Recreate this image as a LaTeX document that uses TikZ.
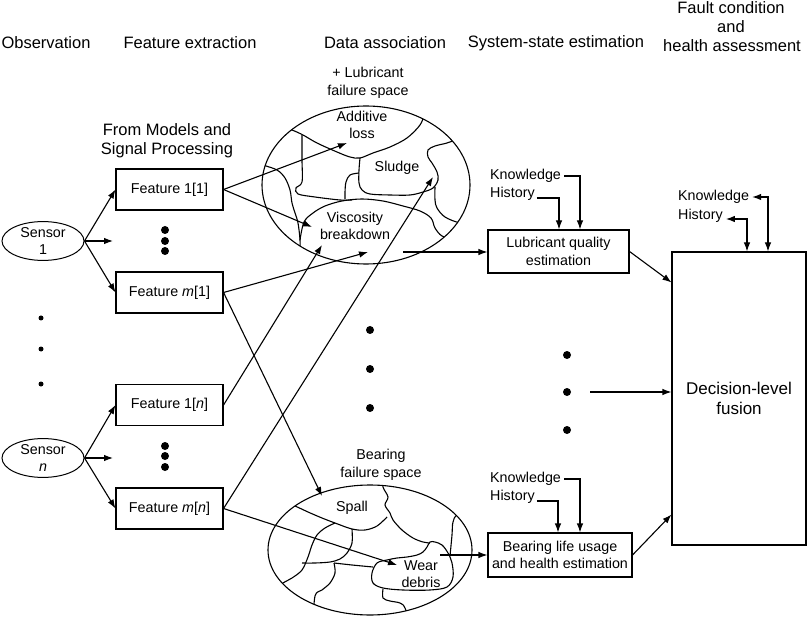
\documentclass[tikz,border=0pt]{standalone}
\usepackage{fontspec}
\setmainfont{Liberation Sans}
\usetikzlibrary{arrows.meta,shapes.geometric}
\newcommand\hdfont{\fontsize{16.5}{19}\selectfont}
\newcommand\fusfont{\fontsize{17}{20}\selectfont}
\newcommand\txfont{\fontsize{14.3}{17.5}\selectfont}
\begin{document}
\begin{tikzpicture}[x=1pt,y=-1pt,
  hd/.style={font=\hdfont, inner sep=0pt, align=center},
  tx/.style={font=\txfont, inner sep=0pt, align=center},
  fbox/.style={draw, line width=1.1pt, minimum width=107pt, minimum height=41pt, inner sep=0pt, font=\txfont, align=center},
  sens/.style={draw, ellipse, line width=1pt, minimum width=82pt, minimum height=37pt, inner sep=0pt, font=\txfont, align=center},
  arr/.style={line width=1.1pt, -{Latex[length=9pt,width=6.5pt]}},
  dbl/.style={line width=1.1pt, {Latex[length=9pt,width=6.5pt]}-{Latex[length=9pt,width=6.5pt]}},
  bd/.style={line width=1.1pt},
  bigdot/.style={fill, circle, inner sep=0pt, minimum size=8pt},
  smalldot/.style={fill, circle, inner sep=0pt, minimum size=5pt}]
\useasboundingbox (0,0) rectangle (808,617);

% headers
\node[hd] (hobs) at (46,43) {Observation};
\node[hd] (hfe) at (190,43) {Feature extraction};
\node[hd] (hda) at (385,43) {Data association};
\node[hd] (hss) at (556,43) {System-state estimation};
\node[hd] (hf1) at (731,8) {Fault condition};
\node[hd] (hf2) at (731,27) {and};
\node[hd] (hf3) at (732,46) {health assessment};
\node[hd] (fmsp) at (167,141) {From Models and\\Signal Processing};

% sensors
\node[sens] (s1) at (43,241) {Sensor\\1};
\node[sens] (sn) at (43,458) {Sensor\\\textit{n}};
\node[smalldot] (ld1) at (41,318) {};
\node[smalldot] (ld2) at (41,349) {};
\node[smalldot] (ld3) at (41,384) {};

% features
\node[fbox] (f11) at (169.5,189.5) {Feature 1[1]};
\node[fbox] (fm1) at (169.5,292.5) {Feature \textit{m}[1]};
\node[fbox] (f1n) at (169.5,405) {Feature 1[\textit{n}]};
\node[fbox] (fmn) at (169.5,508.5) {Feature \textit{m}[\textit{n}]};
\node[bigdot] (fd1) at (165,230) {};
\node[bigdot] (fd2) at (165,241) {};
\node[bigdot] (fd3) at (165,251) {};
\node[bigdot] (fd4) at (165,446) {};
\node[bigdot] (fd5) at (165,456) {};
\node[bigdot] (fd6) at (165,467) {};

\coordinate (s1m) at (113,241);
\coordinate (snm) at (113,458);
\draw[arr] (s1.east) -- (f11.west);
\draw[arr] (s1.east) -- (s1m);
\draw[arr] (s1.east) -- (fm1.west);
\draw[arr] (sn.east) -- (f1n.west);
\draw[arr] (sn.east) -- (snm);
\draw[arr] (sn.east) -- (fmn.west);

% lubricant failure space
\node[tx] (lubt) at (368,83) {+ Lubricant\\failure space};
\begin{scope}
\clip (366,185) ellipse [x radius=104pt, y radius=79pt];
\draw[bd] plot[smooth, tension=0.55] coordinates {(280,126) (292,130) (303,135) (317,143) (337,152) (350,157) (360,158) (373,153) (390,147) (407,138) (420,125) (424,114) (425,100)};
\draw[bd] plot[smooth, tension=0.55] coordinates {(302,135) (302,160) (302,182) (296,188) (298,194) (315,197) (340,200) (352,200)};
\draw[bd] plot[smooth, tension=0.55] coordinates {(360,158) (359,170) (359,183) (362,190) (370,194) (390,195) (410,195) (423,192) (433,188) (438,180) (437,172) (432,163) (428,157) (428,150) (435,146) (447,143) (458,139) (478,132)};
\draw[bd] plot[smooth, tension=0.55] coordinates {(359,173) (350,175) (346,182) (345,192) (345,199)};
\draw[bd] plot[smooth, tension=0.55] coordinates {(250,160) (263,165) (277,170) (285,178) (290,190) (292,203) (295,213) (298,223) (300,240) (300,256)};
\draw[bd] plot[smooth, tension=0.55] coordinates {(300,240) (304,222) (313,213) (325,206) (342,201) (362,199) (383,201) (403,206) (420,211) (431,218) (435,228) (442,236) (453,238) (467,232) (482,222)};
\draw[bd] plot[smooth, tension=0.55] coordinates {(435,187) (435,200) (437,208) (445,217) (460,223) (480,226)};
\end{scope}
\draw[bd] (366,185) ellipse [x radius=104pt, y radius=79pt];
\node[tx] (addl) at (362,125) {Additive\\loss};
\node[tx] (sldg) at (397,168) {Sludge};
\node[tx] (visc) at (355,226) {Viscosity\\breakdown};

\coordinate (tadd) at (347,143);
\coordinate (tvis1) at (312,227);
\coordinate (tvis2) at (368,252);
\coordinate (tvis3) at (322,245);
\coordinate (tsld) at (433,177);
\coordinate (lubo) at (403,252);
\draw[arr] (f11.east) -- (tadd);
\draw[arr] (f11.east) -- (tvis1);
\draw[arr] (fm1.east) -- (tvis2);
\draw[arr] (f1n.east) -- (tvis3);
\draw[arr] (fmn.east) -- (tsld);

% bearing failure space
\node[tx] (beart) at (381,465) {Bearing\\failure space};
\begin{scope}
\clip (370,550) ellipse [x radius=102pt, y radius=65pt];
\draw[bd] plot[smooth, tension=0.55] coordinates {(280,500) (295,506) (308,512) (322,518) (335,523) (352,529) (365,530) (377,526) (387,517)};
\draw[bd] plot[smooth, tension=0.55] coordinates {(382,475) (383,487) (388,497) (385,505) (390,513) (393,520) (402,530) (413,538) (423,542) (430,543)};
\draw[bd] plot[smooth cycle, tension=0.55] coordinates {(377,563) (372,573) (373,583) (383,588) (403,590) (430,590) (447,587) (453,577) (452,563) (448,553) (442,545) (435,542) (430,542) (427,547) (423,552) (417,555) (407,557) (397,558) (387,560)};
\draw[bd] plot[smooth, tension=0.55] coordinates {(383,589) (383,598) (390,601) (400,603) (405,608) (410,625)};
\draw[bd] plot[smooth, tension=0.55] coordinates {(450,556) (452,535) (453,522) (458,514) (480,500)};
\draw[bd] plot[smooth, tension=0.55] coordinates {(335,523) (325,528) (317,535) (312,545) (308,557) (302,570) (292,578) (283,583) (265,595)};
\draw[bd] plot[smooth, tension=0.55] coordinates {(352,529) (352,543) (347,553) (340,559) (330,562) (315,563) (302,563)};
\draw[bd] plot[smooth, tension=0.55] coordinates {(334,563) (352,565) (373,567)};
\draw[bd] plot[smooth, tension=0.55] coordinates {(334,563) (335,573) (330,583) (322,590) (315,596) (313,625)};
\end{scope}
\draw[bd] (370,550) ellipse [x radius=102pt, y radius=65pt];
\node[tx] (spall) at (352,508) {Spall};
\node[tx] (weard) at (421,574) {Wear\\debris};

\coordinate (tspall) at (322,496);
\coordinate (twear) at (397,565);
\coordinate (bearo) at (440,555);
\draw[arr] (fm1.east) -- (tspall);
\draw[arr] (fmn.east) -- (twear);

% middle dots
\node[bigdot] (md1) at (370,330) {};
\node[bigdot] (md2) at (370,369) {};
\node[bigdot] (md3) at (370,408) {};
\node[bigdot] (rd1) at (567,355) {};
\node[bigdot] (rd2) at (567,392) {};
\node[bigdot] (rd3) at (567,430) {};

% system-state boxes
\node[fbox, minimum width=141pt, minimum height=43pt] (lub) at (558.5,251.5) {Lubricant quality\\estimation};
\node[fbox, minimum width=144pt, minimum height=44pt] (bear) at (560,555) {Bearing life usage\\and health estimation};
\draw[arr] (lubo) -- (lub.west |- lubo);
\draw[arr] (bearo) -- (bear.west |- bearo);

\node[tx, anchor=west] (kn1) at (490,176) {Knowledge};
\node[tx, anchor=west] (hi1) at (490,194) {History};
\draw[arr] ([xshift=3pt]kn1.east) -| ([xshift=21.5pt]lub.north);
\draw[arr] ([xshift=2pt,yshift=-4pt]hi1.east) -| ([xshift=0.5pt]lub.north);
\node[tx, anchor=west] (kn2) at (490,479) {Knowledge};
\node[tx, anchor=west] (hi2) at (490,497) {History};
\draw[arr] ([xshift=3pt]kn2.east) -| ([xshift=20pt]bear.north);
\draw[arr] ([xshift=2pt,yshift=-4pt]hi2.east) -| ([xshift=-2pt]bear.north);

% fusion
\node[fbox, font=\fusfont, minimum width=134pt, minimum height=293pt] (fus) at (739,398.5) {Decision-level\\fusion};
\draw[arr] (lub.east) -- ([yshift=-31pt]fus.north west);
\draw[arr] (bear.east) -- ([yshift=31pt]fus.south west);
\coordinate (mdot) at (590,392);
\draw[arr] (mdot) -- (fus.west |- mdot);

\node[tx, anchor=west] (kn3) at (678,197) {Knowledge};
\node[tx, anchor=west] (hi3) at (678,216) {History};
\draw[dbl] ([xshift=3pt]kn3.east) -| ([xshift=768pt-739pt]fus.north);
\draw[dbl] ([xshift=3pt,yshift=-3pt]hi3.east) -| ([xshift=747pt-739pt]fus.north);
\end{tikzpicture}
\end{document}
